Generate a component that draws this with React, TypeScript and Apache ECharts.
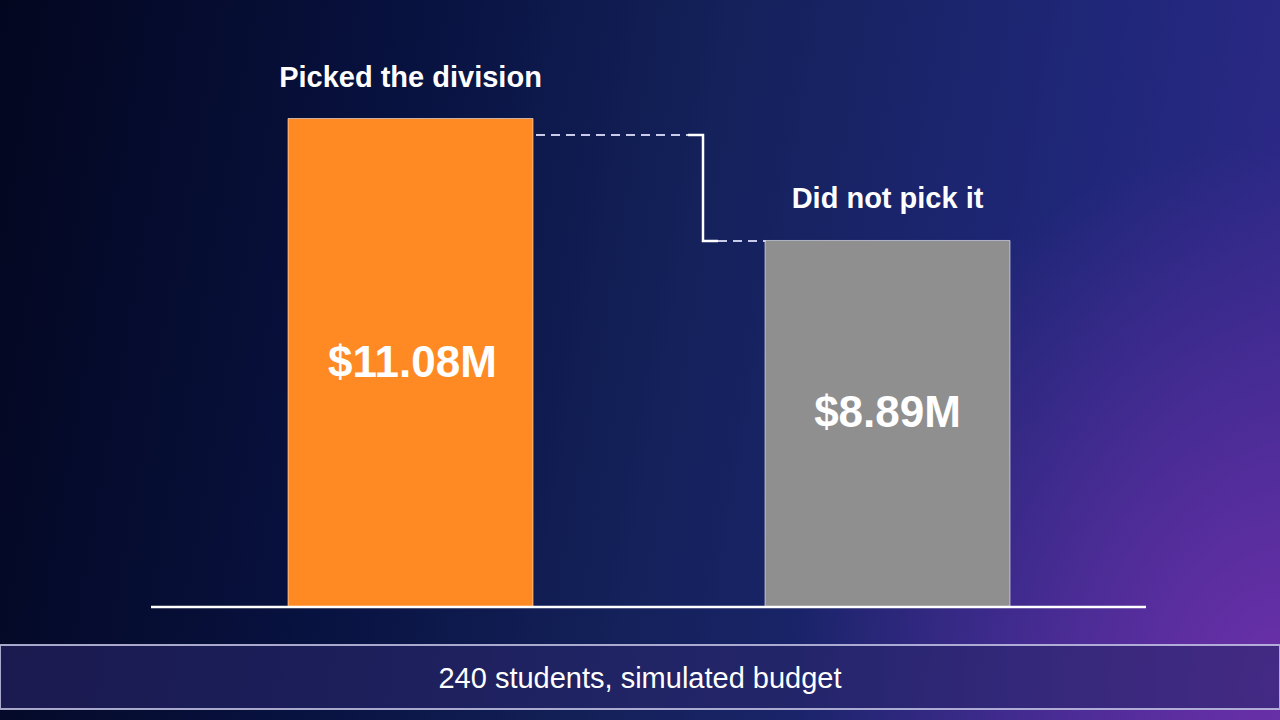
import { useEffect, useRef } from "react";
import * as echarts from "echarts";

const categories = ["Picked the division", "Did not pick it"];
const values = [11.08, 8.89];
const valueLabels = ["$11.08M", "$8.89M"];
const barColors = ["#FF8A24", "#8F8F8F"];
const footnote = "240 students, simulated budget";

const FONT = "'Liberation Sans', Arial, Helvetica, sans-serif";

export default function App() {
  const ref = useRef<HTMLDivElement>(null);
  useEffect(() => {
    const chart = echarts.init(ref.current!, null, { renderer: "svg" });
    chart.setOption({
      animation: false,
      backgroundColor: "transparent",
      textStyle: { fontFamily: FONT },
      grid: { left: 172, right: 154, top: 118, bottom: 113 },
      xAxis: {
        type: "category",
        data: categories,
        show: false,
      },
      yAxis: {
        type: "value",
        min: 2.3,
        max: 11.08,
        show: false,
        splitLine: { show: false },
      },
      series: [
        {
          type: "bar",
          barWidth: 246,
          data: values.map((v, i) => ({
            value: v,
            itemStyle: {
              color: barColors[i],
              borderColor: "rgba(255,255,255,0.55)",
              borderWidth: 1,
            },
            label: { offset: i === 1 ? [0, -12] : [2, -1] },
          })),
          label: {
            show: true,
            position: "inside",
            formatter: (p: any) => valueLabels[p.dataIndex],
            color: "#ffffff",
            fontSize: 44,
            fontWeight: "bold",
            fontFamily: FONT,
          },
          silent: true,
        },
        {
          type: "bar",
          barWidth: 246,
          barGap: "-100%",
          data: values,
          itemStyle: { color: "rgba(0,0,0,0)" },
          label: {
            show: true,
            position: "top",
            distance: 27,
            formatter: (p: any) => categories[p.dataIndex],
            color: "#ffffff",
            fontSize: 29,
            fontWeight: "bold",
            fontFamily: FONT,
          },
          silent: true,
        },
      ],
      graphic: [
        {
          type: "line",
          z: 100,
          shape: { x1: 151, y1: 607, x2: 1146, y2: 607 },
          style: { stroke: "#ffffff", lineWidth: 2.5 },
        },
        {
          type: "line",
          z: 100,
          shape: { x1: 536, y1: 135, x2: 688, y2: 135 },
          style: { stroke: "#c8cbea", lineWidth: 2, lineDash: [9, 6] },
        },
        {
          type: "polyline",
          z: 100,
          shape: {
            points: [
              [688, 135],
              [703, 135],
              [703, 241],
              [718, 241],
            ],
          },
          style: { stroke: "#ffffff", lineWidth: 2.5, fill: null },
        },
        {
          type: "line",
          z: 100,
          shape: { x1: 718, y1: 241, x2: 766, y2: 241 },
          style: { stroke: "#c8cbea", lineWidth: 2, lineDash: [9, 6] },
        },
        {
          type: "rect",
          z: 100,
          shape: { x: 0, y: 645, width: 1280, height: 64 },
          style: {
            fill: "rgba(41,39,106,0.6)",
            stroke: "rgba(195,195,228,0.85)",
            lineWidth: 2,
          },
        },
        {
          type: "text",
          z: 101,
          x: 640,
          y: 678,
          style: {
            text: footnote,
            fill: "#ffffff",
            fontSize: 29,
            fontFamily: FONT,
            align: "center",
            verticalAlign: "middle",
          },
        },
      ],
    });
    return () => chart.dispose();
  }, []);
  return (
    <div
      ref={ref}
      style={{
        position: "fixed",
        left: 0,
        top: 0,
        width: 1280,
        height: 720,
        background:
          "radial-gradient(ellipse 38% 75% at 100% 95%, rgba(110,48,170,0.95) 0%, rgba(110,48,170,0) 100%), linear-gradient(100deg, #03061f 0%, #081240 30%, #14215a 52%, #20277a 80%, #30298a 100%)",
      }}
    />
  );
}
